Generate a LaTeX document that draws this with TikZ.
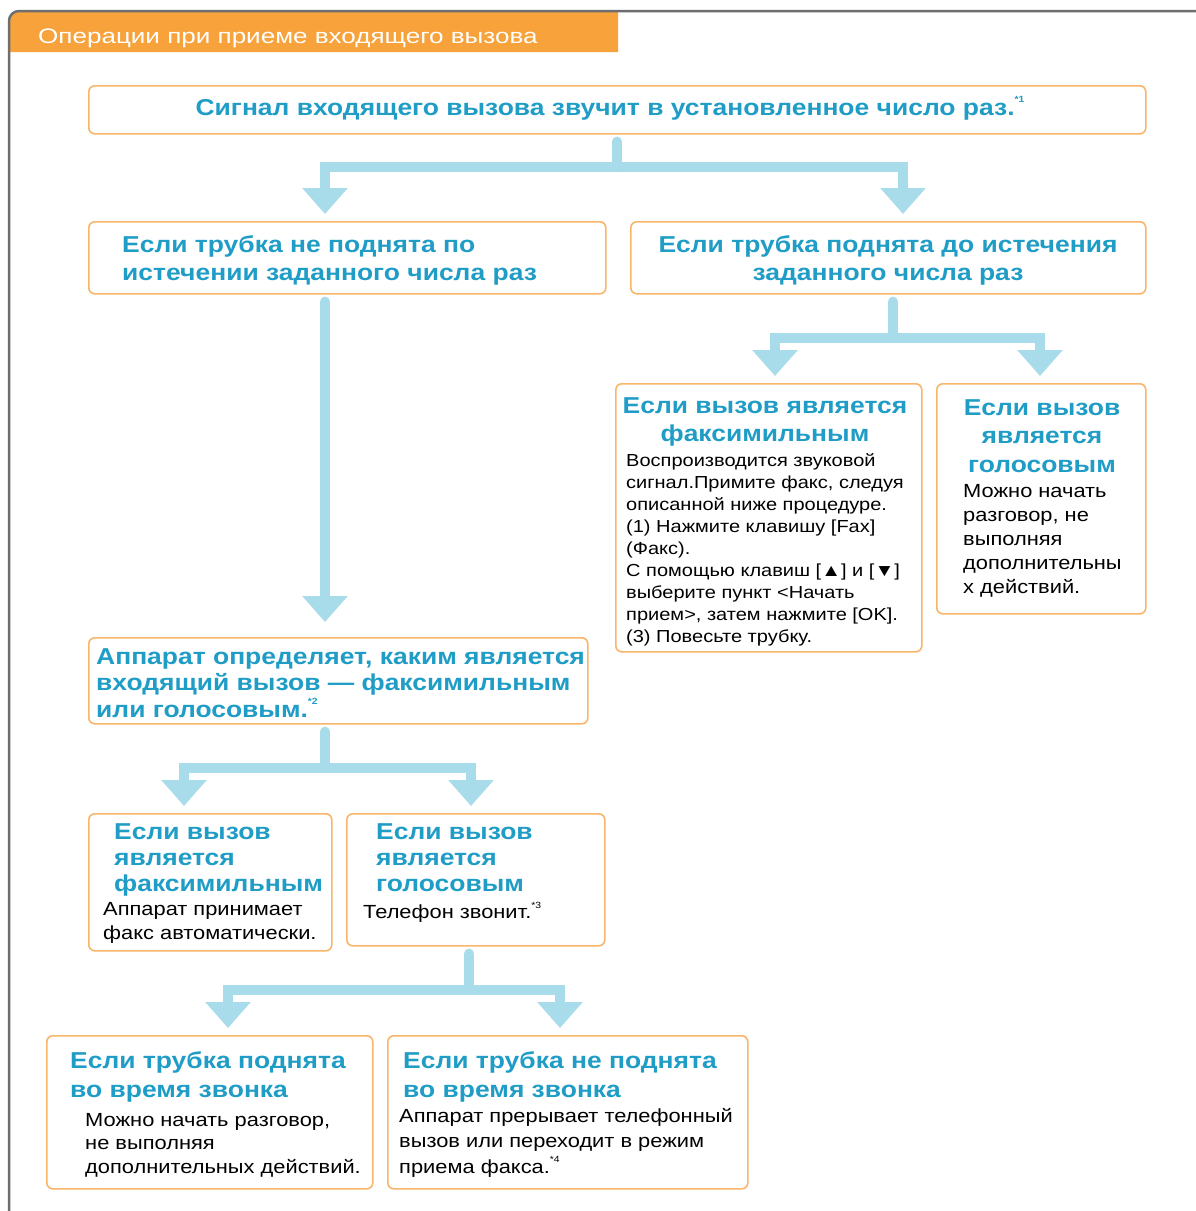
\documentclass[tikz,border=0pt]{standalone}
\usepackage{fontspec}
\setmainfont[FakeStretch=1.15]{Liberation Sans}
\newfontfamily\hdrfont[FakeStretch=1.24]{Liberation Sans}
\usetikzlibrary{arrows.meta,calc}
\definecolor{ttlc}{HTML}{1F9DC6}
\definecolor{bord}{HTML}{F9B56A}
\definecolor{hdrc}{HTML}{F7A23A}
\definecolor{arrc}{HTML}{A9DCEB}
\definecolor{frm}{HTML}{6E6E6E}
\tikzset{
  box/.style={draw=bord, line width=1.6pt, rounded corners=6pt, fill=white, anchor=north west, inner sep=0pt},
  ttl/.style={text=ttlc, font=\bfseries\fontsize{23}{28}\selectfont, inner sep=0pt},
  bdy/.style={text=black, font=\fontsize{19}{24}\selectfont, inner sep=0pt},
  bdys/.style={text=black, font=\fontsize{17.4}{22}\selectfont, inner sep=0pt},
  link/.style={draw=arrc, line width=10pt},
  arr/.style={link, -{Triangle[width=44pt,length=26pt]}},
}
\newcommand{\fn}[1]{\raisebox{0.55em}{\fontsize{9}{9}\selectfont #1}}
\begin{document}
\begin{tikzpicture}[x=1pt,y=-1pt]
\useasboundingbox (0,0) rectangle (1195,1211);
\fill[white] (0,0) rectangle (1195,1211);
% header
\fill[hdrc] (10,52) [rounded corners=9pt]-- (10,12) [sharp corners]-- (618,12) -- (618,52) -- cycle;
\draw[frm, line width=2.5pt, rounded corners=10pt] (9,1211) -- (9,11) -- (1197,11);
\node[anchor=base west, text=white, font=\hdrfont\fontsize{21}{21}\selectfont, inner sep=0pt] (hdr) at (38,43) {Операции при приеме входящего вызова};
% boxes
\node[box, minimum width=1057pt, minimum height=48pt] (top) at (88,85) {};
\node[box, minimum width=517pt, minimum height=72pt] (l1) at (88,221) {};
\node[box, minimum width=515pt, minimum height=72pt] (r1) at (630,221) {};
\node[box, minimum width=306pt, minimum height=268pt] (r2a) at (615,383) {};
\node[box, minimum width=209pt, minimum height=230pt] (r2b) at (936,383) {};
\node[box, minimum width=499pt, minimum height=86pt] (l2) at (88,637) {};
\node[box, minimum width=243pt, minimum height=137pt] (l3a) at (88,813) {};
\node[box, minimum width=258pt, minimum height=132pt] (l3b) at (346,813) {};
\node[box, minimum width=326pt, minimum height=153pt] (l4a) at (46,1035) {};
\node[box, minimum width=360pt, minimum height=153pt] (l4b) at (387,1035) {};
% texts
\node[ttl, anchor=base] (ttop) at (610,115) {Сигнал входящего вызова звучит в установленное число раз.\fn{*1}};
\node[ttl, anchor=north west, align=left] (tl1) at (122,235) {Если трубка не поднята по\\истечении заданного числа раз};
\node[ttl, anchor=north, align=center] (tr1) at (888,235) {Если трубка поднята до истечения\\заданного числа раз};
\node[ttl, anchor=north, align=center] (tr2a) at (765,397) {Если вызов является\\факсимильным};
\node[bdys, anchor=north west, align=left] (br2a) at (626,453) {Воспроизводится звуковой\\сигнал.Примите факс, следуя\\описанной ниже процедуре.\\(1) Нажмите клавишу [Fax]\\(Факс).\\С помощью клавиш [▲] и [▼]\\выберите пункт <Начать\\прием>, затем нажмите [OK].\\(3) Повесьте трубку.};
\node[ttl, anchor=north, align=center, font=\bfseries\fontsize{23}{28.5}\selectfont] (tr2b) at (1042,399) {Если вызов\\является\\голосовым};
\node[bdy, anchor=north west, align=left] (br2b) at (963,484) {Можно начать\\разговор, не\\выполняя\\дополнительны\\х действий.};
\node[ttl, anchor=north west, align=left, font=\bfseries\fontsize{23}{26.5}\selectfont] (tl2) at (96,648) {Аппарат определяет, каким является\\входящий вызов — факсимильным\\или голосовым.\fn{*2}};
\node[ttl, anchor=north west, align=left, font=\bfseries\fontsize{23}{26}\selectfont] (tl3a) at (114,823) {Если вызов\\является\\факсимильным};
\node[bdy, anchor=north west, align=left] (bl3a) at (103,902) {Аппарат принимает\\факс автоматически.};
\node[ttl, anchor=north west, align=left, font=\bfseries\fontsize{23}{26}\selectfont] (tl3b) at (376,823) {Если вызов\\является\\голосовым};
\node[bdy, anchor=north west, align=left] (bl3b) at (363,902) {Телефон звонит.\fn{*3}};
\node[ttl, anchor=north west, align=left, font=\bfseries\fontsize{23}{29}\selectfont] (tl4a) at (70,1051) {Если трубка поднята\\во время звонка};
\node[bdy, anchor=north west, align=left, font=\fontsize{19}{23.5}\selectfont] (bl4a) at (85,1113) {Можно начать разговор,\\не выполняя\\дополнительных действий.};
\node[ttl, anchor=north west, align=left, font=\bfseries\fontsize{23}{29}\selectfont] (tl4b) at (403,1051) {Если трубка не поднята\\во время звонка};
\node[bdy, anchor=north west, align=left, font=\fontsize{19}{25.5}\selectfont] (bl4b) at (399,1108) {Аппарат прерывает телефонный\\вызов или переходит в режим\\приема факса.\fn{*4}};
% connectors
\coordinate (j1) at (617,167);
\coordinate (x1) at (325,0);
\coordinate (x2) at (903,0);
\draw[link, line cap=round] ([yshift=-7pt]top.south -| j1) -- (j1);
\draw[arr, shorten >=7pt] (j1) -| (l1.north -| x1);
\draw[arr, shorten >=7pt] (j1) -| (r1.north -| x2);
\draw[arr, shorten >=15pt, line cap=round] ([yshift=-7pt]l1.south -| x1) -- (l2.north -| x1);
\coordinate (j2) at (893,338);
\coordinate (x3) at (775,0);
\coordinate (x4) at (1040,0);
\draw[link, line cap=round] ([yshift=-7pt]r1.south -| j2) -- (j2);
\draw[arr, shorten >=7pt] (j2) -| (r2a.north -| x3);
\draw[arr, shorten >=7pt] (j2) -| (r2b.north -| x4);
\coordinate (j3) at (325,768);
\coordinate (x5) at (184,0);
\coordinate (x6) at (471,0);
\draw[link, line cap=round] ([yshift=-7pt]l2.south -| j3) -- (j3);
\draw[arr, shorten >=7pt] (j3) -| (l3a.north -| x5);
\draw[arr, shorten >=7pt] (j3) -| (l3b.north -| x6);
\coordinate (j4) at (469,990);
\coordinate (x7) at (228,0);
\coordinate (x8) at (560,0);
\draw[link, line cap=round] ([yshift=-7pt]l3b.south -| j4) -- (j4);
\draw[arr, shorten >=7pt] (j4) -| (l4a.north -| x7);
\draw[arr, shorten >=7pt] (j4) -| (l4b.north -| x8);
\end{tikzpicture}
\end{document}
